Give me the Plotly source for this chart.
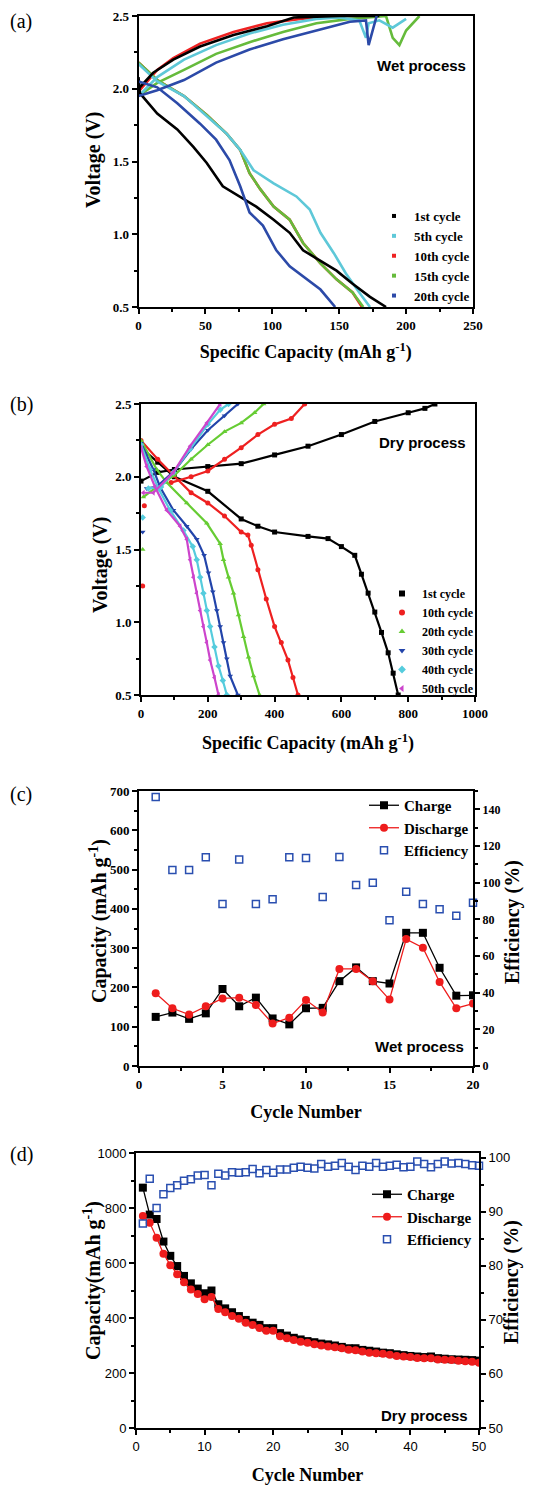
import plotly.graph_objects as go

# Page window is 548x1485; the browser body adds an 8px margin, so the figure is
# sized to fit and every reference pixel position is shifted by that offset.
W, H = 548, 1485
OX, OY = 8, 8
FW, FH = W - OX, H - OY
SERIF = "Liberation Serif"
SANS = "Liberation Sans"

# ---------------- Panel (a): wet process voltage profiles ----------------
a_cycles = ["1st cycle", "5th cycle", "10th cycle", "15th cycle", "20th cycle"]
a_colors = ["#000000", "#5ec8d8", "#ee2222", "#66bb3c", "#2c4aa8"]

a1_chg_x = [0, 11, 26, 46, 71, 96, 116, 150, 180]
a1_chg_v = [2.00, 2.11, 2.20, 2.29, 2.37, 2.43, 2.49, 2.50, 2.50]
a1_dis_x = [0, 1, 14, 29, 41, 51, 63, 76, 88, 101, 113, 123, 136, 148, 160, 173, 185]
a1_dis_v = [2.08, 1.97, 1.83, 1.72, 1.60, 1.49, 1.33, 1.26, 1.19, 1.10, 1.01, 0.89, 0.82, 0.75, 0.66, 0.57, 0.50]

a5_chg_x = [0, 14, 34, 58, 83, 108, 133, 150, 165, 170, 172, 180, 190, 195, 200]
a5_chg_v = [1.95, 2.08, 2.20, 2.30, 2.38, 2.44, 2.48, 2.49, 2.47, 2.35, 2.45, 2.47, 2.42, 2.45, 2.48]
a5_dis_x = [0, 14, 34, 51, 66, 76, 86, 101, 118, 128, 136, 146, 155, 165, 173]
a5_dis_v = [2.17, 2.05, 1.95, 1.81, 1.69, 1.58, 1.44, 1.35, 1.26, 1.17, 1.01, 0.87, 0.73, 0.60, 0.50]

a10_chg_x = [0, 14, 26, 46, 71, 96, 121, 146]
a10_chg_v = [1.98, 2.13, 2.21, 2.31, 2.39, 2.45, 2.48, 2.50]
a10_dis_x = [0, 14, 34, 51, 66, 76, 83, 91, 101, 113, 123, 136, 148, 160, 167]
a10_dis_v = [2.18, 2.06, 1.95, 1.82, 1.69, 1.58, 1.42, 1.31, 1.19, 1.10, 0.94, 0.80, 0.69, 0.60, 0.50]

a15_chg_x = [0, 14, 34, 58, 83, 108, 133, 158, 185, 190, 195, 200, 210]
a15_chg_v = [1.95, 2.04, 2.13, 2.24, 2.32, 2.39, 2.45, 2.48, 2.50, 2.35, 2.30, 2.40, 2.50]
a15_dis_x = [0, 14, 34, 51, 66, 76, 83, 91, 101, 113, 123, 136, 148, 160, 168]
a15_dis_v = [2.18, 2.06, 1.95, 1.82, 1.69, 1.58, 1.42, 1.31, 1.19, 1.10, 0.94, 0.80, 0.69, 0.60, 0.50]

a20_chg_x = [0, 14, 34, 58, 83, 108, 133, 158, 170, 172, 178]
a20_chg_v = [1.95, 1.99, 2.06, 2.18, 2.27, 2.34, 2.40, 2.46, 2.47, 2.30, 2.50]
a20_dis_x = [0, 14, 29, 46, 58, 68, 76, 83, 93, 103, 113, 126, 136, 147]
a20_dis_v = [2.05, 2.01, 1.90, 1.76, 1.65, 1.51, 1.33, 1.15, 1.06, 0.89, 0.78, 0.69, 0.62, 0.50]

a_curves = [
    (a1_chg_x, a1_chg_v, a1_dis_x, a1_dis_v),
    (a5_chg_x, a5_chg_v, a5_dis_x, a5_dis_v),
    (a10_chg_x, a10_chg_v, a10_dis_x, a10_dis_v),
    (a15_chg_x, a15_chg_v, a15_dis_x, a15_dis_v),
    (a20_chg_x, a20_chg_v, a20_dis_x, a20_dis_v),
]
a_draw_order = [2, 3, 1, 0, 4]

# ---------------- Panel (b): dry process voltage profiles ----------------
b_cycles = ["1st cycle", "10th cycle", "20th cycle", "30th cycle", "40th cycle", "50th cycle"]
b_colors = ["#000000", "#ee2020", "#66cc33", "#2244aa", "#55ccdd", "#cc44cc"]
b_symbols = ["square", "circle", "triangle-up", "triangle-down", "diamond", "triangle-left"]

b1_chg_x = [0, 50, 100, 200, 300, 400, 500, 600, 700, 800, 850, 880]
b1_chg_v = [1.97, 2.03, 2.05, 2.07, 2.09, 2.15, 2.21, 2.29, 2.38, 2.44, 2.47, 2.50]
b1_dis_x = [0, 50, 100, 200, 300, 350, 400, 500, 560, 600, 640, 660, 680, 700, 720, 740, 755, 770]
b1_dis_v = [2.20, 2.10, 2.00, 1.90, 1.71, 1.66, 1.62, 1.59, 1.575, 1.52, 1.46, 1.33, 1.20, 1.07, 0.93, 0.79, 0.65, 0.50]

b10_chg_x = [90, 150, 200, 250, 300, 350, 400, 450, 490]
b10_chg_v = [1.96, 2.00, 2.04, 2.12, 2.20, 2.29, 2.36, 2.40, 2.50]
b10_dis_x = [0, 50, 97, 150, 200, 250, 300, 320, 330, 350, 375, 400, 420, 440, 455, 470]
b10_dis_v = [2.25, 2.12, 2.01, 1.89, 1.82, 1.73, 1.62, 1.60, 1.53, 1.36, 1.16, 0.97, 0.86, 0.74, 0.62, 0.50]

b20_chg_x = [7, 47, 100, 150, 200, 250, 300, 340, 367]
b20_chg_v = [1.86, 1.93, 2.01, 2.12, 2.22, 2.31, 2.37, 2.44, 2.50]
b20_dis_x = [0, 47, 77, 137, 197, 237, 247, 262, 277, 292, 307, 322, 337, 355]
b20_dis_v = [2.25, 2.05, 1.96, 1.82, 1.68, 1.54, 1.43, 1.31, 1.20, 1.05, 0.90, 0.76, 0.63, 0.50]

b30_chg_x = [17, 47, 100, 150, 200, 250, 290]
b30_chg_v = [1.92, 1.93, 2.04, 2.19, 2.32, 2.42, 2.50]
b30_dis_x = [0, 37, 57, 97, 137, 167, 189, 202, 215, 227, 237, 247, 257, 267, 290]
b30_dis_v = [2.23, 2.05, 1.93, 1.77, 1.66, 1.57, 1.46, 1.34, 1.21, 1.08, 0.97, 0.86, 0.75, 0.63, 0.50]

b40_chg_x = [22, 60, 97, 147, 200, 237, 262]
b40_chg_v = [1.92, 1.93, 2.03, 2.19, 2.36, 2.46, 2.50]
b40_dis_x = [0, 27, 52, 87, 127, 155, 167, 177, 187, 197, 207, 220, 232, 245, 257]
b40_dis_v = [2.22, 2.05, 1.92, 1.77, 1.63, 1.52, 1.43, 1.31, 1.20, 1.08, 0.97, 0.83, 0.70, 0.60, 0.50]

b50_chg_x = [7, 37, 97, 147, 197, 237]
b50_chg_v = [1.89, 1.89, 2.03, 2.21, 2.37, 2.50]
b50_dis_x = [0, 17, 42, 77, 117, 137, 147, 157, 167, 177, 187, 197, 207, 220, 232]
b50_dis_v = [2.20, 2.07, 1.93, 1.77, 1.66, 1.57, 1.43, 1.31, 1.20, 1.08, 0.97, 0.86, 0.74, 0.62, 0.50]

# isolated rest-period points near zero capacity
b_rest_x = [5, 10, 5, 5, 5]
b_rest_v = [1.25, 1.80, 1.50, 1.62, 1.72]
b_rest_idx = [1, 1, 2, 3, 4]

b_curves = [
    (b1_chg_x, b1_chg_v, b1_dis_x, b1_dis_v),
    (b10_chg_x, b10_chg_v, b10_dis_x, b10_dis_v),
    (b20_chg_x, b20_chg_v, b20_dis_x, b20_dis_v),
    (b30_chg_x, b30_chg_v, b30_dis_x, b30_dis_v),
    (b40_chg_x, b40_chg_v, b40_dis_x, b40_dis_v),
    (b50_chg_x, b50_chg_v, b50_dis_x, b50_dis_v),
]

# ---------------- Panel (c): wet process cycling ----------------
c_cycle = list(range(1, 21))
c_charge = [125, 136, 120, 134, 196, 152, 174, 121, 106, 147, 148, 216, 251, 216, 210, 339, 339, 250, 179, 180]
c_discharge = [185, 147, 131, 152, 172, 174, 155, 108, 123, 168, 136, 247, 247, 216, 169, 323, 301, 214, 147, 159]
c_eff = [146.7, 106.9, 106.9, 113.8, 88.4, 112.7, 88.4, 90.9, 113.8, 113.4, 92.2, 114.0, 98.7, 100.0, 79.5, 95.1, 88.4, 85.5, 81.9, 89.1]

# ---------------- Panel (d): dry process cycling ----------------
d_cycle = list(range(1, 51))
d_charge = [874, 776, 760, 678, 626, 589, 553, 526, 507, 490, 500, 450, 435, 421, 407, 393, 383, 375, 363, 363,
            345, 336, 328, 322, 316, 312, 307, 304, 300, 295, 290, 290, 284, 281, 278, 274, 272, 268, 265, 262,
            260, 258, 260, 254, 252, 250, 249, 248, 247, 245]
d_discharge = [771, 746, 692, 634, 592, 559, 530, 504, 487, 468, 476, 433, 421, 407, 397, 383, 375, 364, 354, 354,
               334, 326, 320, 314, 310, 305, 300, 296, 294, 290, 285, 283, 278, 274, 272, 270, 266, 262, 260, 258,
               255, 254, 254, 249, 248, 247, 245, 243, 241, 237]
d_eff = [87.8, 96.1, 90.7, 93.2, 94.4, 94.9, 95.7, 96.0, 96.7, 96.8, 94.9, 97.0, 96.7, 97.3, 97.2, 97.3, 97.9, 97.1, 97.7, 97.2,
         97.8, 97.8, 98.1, 98.3, 98.1, 98.0, 98.8, 98.3, 98.5, 99.0, 98.3, 97.7, 98.5, 98.3, 99.0, 98.3, 98.5, 98.7, 98.2, 98.3,
         99.3, 98.8, 98.2, 98.8, 99.3, 98.9, 99.0, 98.8, 98.6, 98.5]


def px(x):
    return max(0.0, (x - OX) / FW)


def py(y):
    return min(1.0, 1 - (y - OY) / FH)


def xdom(p0, p1):
    return [px(p0), px(p1)]


def ydom(p0, p1):
    return [py(p1), py(p0)]


def tickfont(family=SERIF, size=13, bold=True):
    return dict(family=family, size=size, color="black", weight="bold" if bold else "normal")


def axis(domain, rng, dtick, minor_dtick, anchor, title=None, tfam=SERIF, tsize=13, tbold=True,
         title_size=18, standoff=10, mirror=True, side=None, overlaying=None, tickformat=None):
    d = dict(
        domain=domain, range=rng, dtick=dtick, tick0=0, anchor=anchor, automargin=False,
        showgrid=False, zeroline=False, showline=True, linecolor="black", linewidth=2,
        mirror=mirror, ticks="outside", ticklen=5, tickwidth=1.5, tickcolor="black",
        tickfont=tickfont(tfam, tsize, tbold),
        minor=dict(ticks="outside", ticklen=3, tickwidth=1.5, tickcolor="black", dtick=minor_dtick, tick0=0,
                   showgrid=False),
    )
    if title:
        d["title"] = dict(text=title, font=dict(family=SERIF, size=title_size, color="black", weight="bold"),
                          standoff=standoff)
    if side:
        d["side"] = side
    if overlaying:
        d["overlaying"] = overlaying
    if tickformat:
        d["tickformat"] = tickformat
    return d


fig = go.Figure()

# (a) traces
for i in a_draw_order:
    cx, cv, dxs, dv = a_curves[i]
    for xs, vs in ((cx, cv), (dxs, dv)):
        fig.add_trace(go.Scatter(x=xs, y=vs, mode="lines", line=dict(color=a_colors[i], width=2.6),
                                 showlegend=False, xaxis="x", yaxis="y", hoverinfo="skip"))
for i, name in enumerate(a_cycles):
    fig.add_trace(go.Scatter(x=[None], y=[None], mode="markers", name=name,
                             marker=dict(color=a_colors[i], size=4, symbol="square"),
                             xaxis="x", yaxis="y", legend="legend"))

# (b) traces
for i, name in enumerate(b_cycles):
    cx, cv, dxs, dv = b_curves[i]
    for xs, vs in ((cx, cv), (dxs, dv)):
        fig.add_trace(go.Scatter(x=xs, y=vs, mode="lines+markers", name=name,
                                 line=dict(color=b_colors[i], width=2.2),
                                 marker=dict(color=b_colors[i], size=5, symbol=b_symbols[i]),
                                 showlegend=False, xaxis="x2", yaxis="y2"))
    fig.add_trace(go.Scatter(x=[None], y=[None], mode="markers", name=name,
                             marker=dict(color=b_colors[i], size=6, symbol=b_symbols[i]),
                             xaxis="x2", yaxis="y2", legend="legend2"))
fig.add_trace(go.Scatter(x=b_rest_x, y=b_rest_v, mode="markers", showlegend=False, xaxis="x2", yaxis="y2",
                         marker=dict(color=[b_colors[k] for k in b_rest_idx],
                                     symbol=[b_symbols[k] for k in b_rest_idx], size=5)))

# (c) traces
fig.add_trace(go.Scatter(x=c_cycle, y=c_charge, mode="lines+markers", name="Charge",
                         line=dict(color="black", width=1.3), marker=dict(symbol="square", size=8, color="black"),
                         xaxis="x3", yaxis="y3", legend="legend3"))
fig.add_trace(go.Scatter(x=c_cycle, y=c_discharge, mode="lines+markers", name="Discharge",
                         line=dict(color="#ee1c1c", width=1.3), marker=dict(symbol="circle", size=8, color="#ee1c1c"),
                         xaxis="x3", yaxis="y3", legend="legend3"))
fig.add_trace(go.Scatter(x=c_cycle, y=c_eff, mode="markers", name="Efficiency",
                         marker=dict(symbol="square-open", size=7, color="#2a4fb0", line=dict(width=1.5)),
                         xaxis="x3", yaxis="y4", legend="legend3", cliponaxis=False))

# (d) traces
fig.add_trace(go.Scatter(x=d_cycle, y=d_charge, mode="lines+markers", name="Charge",
                         line=dict(color="black", width=1.3), marker=dict(symbol="square", size=8, color="black"),
                         xaxis="x4", yaxis="y5", legend="legend4"))
fig.add_trace(go.Scatter(x=d_cycle, y=d_discharge, mode="lines+markers", name="Discharge",
                         line=dict(color="#ee1c1c", width=1.3), marker=dict(symbol="circle", size=8, color="#ee1c1c"),
                         xaxis="x4", yaxis="y5", legend="legend4"))
fig.add_trace(go.Scatter(x=d_cycle, y=d_eff, mode="markers", name="Efficiency",
                         marker=dict(symbol="square-open", size=7, color="#2a4fb0", line=dict(width=1.5)),
                         xaxis="x4", yaxis="y6", legend="legend4", cliponaxis=False))

cap_title = "Specific Capacity (mAh g<sup>-1</sup>)"


def legend_at(x, y, size):
    return dict(x=px(x), y=py(y), xanchor="left", yanchor="top", bgcolor="rgba(0,0,0,0)",
                font=dict(family=SERIF, size=size, color="black", weight="bold"), tracegroupgap=0, itemwidth=30)


layout = dict(
    width=FW, height=FH, margin=dict(l=0, r=0, t=0, b=0, autoexpand=False),
    paper_bgcolor="white", plot_bgcolor="white", showlegend=True,
    xaxis=axis(xdom(138.5, 473), [0, 250], 50, 25, "y", cap_title, standoff=14),
    yaxis=axis(ydom(16, 307), [0.5, 2.5], 0.5, 0.25, "x", tickformat=".1f"),
    xaxis2=axis(xdom(141, 475), [0, 1000], 200, 100, "y2", cap_title, standoff=17),
    yaxis2=axis(ydom(404, 695), [0.5, 2.5], 0.5, 0.25, "x2", tickformat=".1f"),
    xaxis3=axis(xdom(139, 473), [0, 20], 5, 2.5, "y3", "Cycle Number", standoff=15),
    yaxis3=axis(ydom(791, 1066), [0, 700], 100, 50, "x3", mirror=False),
    yaxis4=axis(ydom(791, 1066), [0, 150], 20, 10, "x3", tsize=12, mirror=False,
                side="right", overlaying="y3"),
    xaxis4=axis(xdom(136, 479), [0, 50], 10, 5, "y5", "Cycle Number", tfam=SANS, tsize=13, tbold=False,
                standoff=17),
    yaxis5=axis(ydom(1153, 1428), [0, 1000], 200, 100, "x4", tfam=SANS, tsize=13, tbold=False,
                mirror=False),
    yaxis6=axis(ydom(1153, 1428), [50, 100.85], 10, 5, "x4", tfam=SANS, tsize=13, tbold=False,
                mirror=False, side="right", overlaying="y5"),
    legend=legend_at(374, 201, 13),
    legend2=legend_at(382, 579, 12),
    legend3=legend_at(364, 789, 15),
    legend4=legend_at(367, 1178, 15),
)

annots = []
for lbl, ly in (("(a)", 8), ("(b)", 391), ("(c)", 781), ("(d)", 1141)):
    annots.append(dict(text=lbl, x=px(7), y=py(ly), xref="paper", yref="paper", xanchor="left",
                       yanchor="top", showarrow=False, font=dict(family=SERIF, size=20, color="black")))
for txt, tx, ty in (("Wet process", 468, 66), ("Dry process", 468, 443), ("Wet process", 466, 1046),
                    ("Dry process", 470, 1415)):
    annots.append(dict(text=txt, x=px(tx), y=py(ty), xref="paper", yref="paper", xanchor="right",
                       yanchor="middle", showarrow=False,
                       font=dict(family=SANS, size=15, color="black", weight="bold")))
# vertical axis titles
for txt, tx, ty in (("Voltage (V)", 93, 160), ("Voltage (V)", 100, 565),
                    ("Capacity (mAh g<sup>-1</sup>)", 98, 921), ("Efficiency (%)", 512, 922),
                    ("Capacity(mAh g<sup>-1</sup>)", 92, 1281), ("Efficiency (%)", 511, 1282)):
    annots.append(dict(text=txt, x=px(tx), y=py(ty), xref="paper", yref="paper", xanchor="center",
                       yanchor="middle", textangle=-90, showarrow=False,
                       font=dict(family=SERIF, size=20, color="black", weight="bold")))
layout["annotations"] = annots

fig.update_layout(**layout)
fig.write_html("out.html")
